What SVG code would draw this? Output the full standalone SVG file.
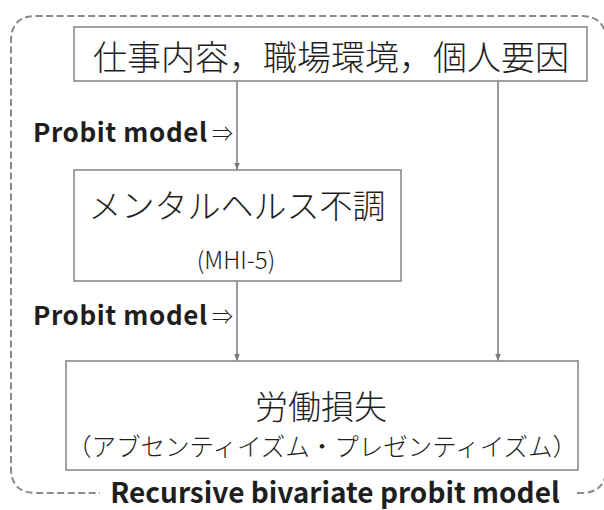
<svg xmlns="http://www.w3.org/2000/svg" width="604" height="510" viewBox="0 0 604 510">
<defs>
<marker id="ah" viewBox="0 0 10 10" refX="10" refY="5" markerWidth="7" markerHeight="7" markerUnits="userSpaceOnUse" orient="auto">
<path d="M0,1 L10,5 L0,9 z" fill="#7a7a7a"/>
</marker>
<style>
.box{fill:#fff;stroke:#8a8a8a;stroke-width:1.6}
.jp{font-family:"Noto Sans CJK JP","Noto Sans",sans-serif;font-weight:300;fill:#1e1e1e}
.lb{font-family:"Noto Sans CJK JP","Noto Sans",sans-serif;font-weight:700;fill:#1e1e1e}
.cn{stroke:#7a7a7a;stroke-width:1.5;fill:none;marker-end:url(#ah)}
</style>
</defs>
<path d="M577,493 L581,493 Q606,493 606,468 L606,41 Q606,16 581,16 L36,16 Q11,16 11,41 L11,468 Q11,493 36,493 L100,493" fill="none" stroke="#8a8a8a" stroke-width="2" stroke-dasharray="7,3.5"/>
<g id="connectors">
<line class="cn" x1="237" y1="81" x2="237" y2="170"/>
<line class="cn" x1="498" y1="81" x2="498" y2="361"/>
<line class="cn" x1="237" y1="281" x2="237" y2="361"/>
</g>
<g id="top">
<rect class="box" x="74" y="27" width="513" height="54"/>
<text class="jp" x="331" y="70" font-size="34" text-anchor="middle">仕事内容，職場環境，個人要因</text>
</g>
<g id="mental">
<rect class="box" x="74" y="170" width="327" height="111"/>
<text class="jp" x="237" y="218" font-size="33" text-anchor="middle">メンタルヘルス不調</text>
<text class="jp" x="236" y="269" font-size="24" text-anchor="middle">(MHI-5)</text>
</g>
<g id="loss">
<rect class="box" x="66" y="361" width="512" height="109"/>
<text class="jp" x="321" y="419" font-size="33" text-anchor="middle">労働損失</text>
<text class="jp" x="322" y="456" font-size="24.5" text-anchor="middle">（アブセンティイズム・プレゼンティイズム）</text>
</g>
<text class="lb" x="33" y="142" font-size="26" letter-spacing="0.6">Probit model</text>
<text class="jp" x="212" y="141" font-size="21" font-weight="400">⇒</text>
<text class="lb" x="33" y="325" font-size="26" letter-spacing="0.6">Probit model</text>
<text class="jp" x="212" y="324" font-size="21" font-weight="400">⇒</text>
<text class="lb" x="335" y="503" font-size="28" text-anchor="middle">Recursive bivariate probit model</text>
</svg>
